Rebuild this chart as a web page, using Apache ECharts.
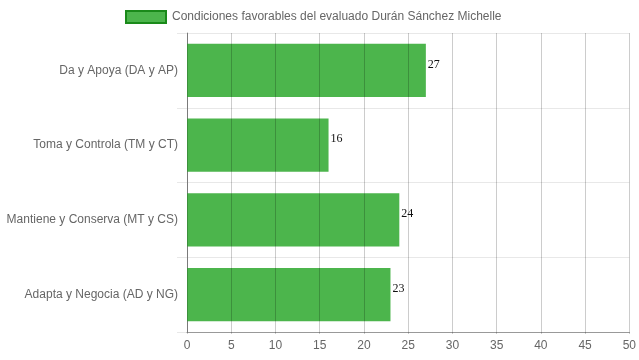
<!DOCTYPE html>
<html><head><meta charset="utf-8">
<script src="https://cdn.jsdelivr.net/npm/echarts@6/dist/echarts.min.js"></script>
<style>html,body{margin:0;padding:0;background:#fff}#c{width:639px;height:360px}</style>
</head><body><div id="c"></div>
<script>
var categories = ['Da y Apoya (DA y AP)', 'Toma y Controla (TM y CT)', 'Mantiene y Conserva (MT y CS)', 'Adapta y Negocia (AD y NG)'];
var values = [27, 16, 24, 23];
var seriesName = 'Condiciones favorables del evaluado Durán Sánchez Michelle';
var xTicks = [0, 5, 10, 15, 20, 25, 30, 35, 40, 45, 50];

var chart = echarts.init(document.getElementById('c'));
chart.setOption({
  animation: false,
  legend: {
    top: 5, left: 120,
    icon: 'rect',
    itemWidth: 40, itemHeight: 12, itemGap: 8,
    textStyle: {color: '#666', fontSize: 12, padding: [0, 0, 0, 1], fontFamily: 'Liberation Sans, Arial, sans-serif'},
    data: [{name: seriesName, itemStyle: {color: '#4cb54c', borderColor: '#1a8a1a', borderWidth: 2}}]
  },
  grid: {left: 187, right: 9, top: 33, bottom: 28, containLabel: false},
  xAxis: {
    type: 'value', min: xTicks[0], max: xTicks[xTicks.length - 1], interval: 5, z: 3,
    axisLine: {show: true, lineStyle: {color: '#999'}},
    axisTick: {show: true, length: 2, lineStyle: {color: 'rgba(0,0,0,0.2)'}},
    axisLabel: {color: '#666', fontSize: 12, margin: 8, fontFamily: 'Liberation Sans, Arial, sans-serif'},
    splitLine: {show: true, lineStyle: {color: 'rgba(0,0,0,0.2)'}}
  },
  yAxis: {
    type: 'category', data: categories, inverse: true,
    axisLine: {show: true, lineStyle: {color: '#999'}},
    axisTick: {show: true, length: 10, lineStyle: {color: '#e8e8e8'}},
    axisLabel: {color: '#666', fontSize: 12, margin: 9, fontFamily: 'Liberation Sans, Arial, sans-serif'},
    splitLine: {show: true, lineStyle: {color: '#e8e8e8'}}
  },
  series: [{
    name: seriesName, type: 'bar', data: values, barCategoryGap: '29%',
    itemStyle: {color: '#4cb54c'},
    label: {show: true, position: 'right', distance: 2, offset: [0, -6], color: '#111', fontSize: 12, fontFamily: 'Liberation Serif, Times New Roman, serif'}
  }]
});
</script></body></html>
